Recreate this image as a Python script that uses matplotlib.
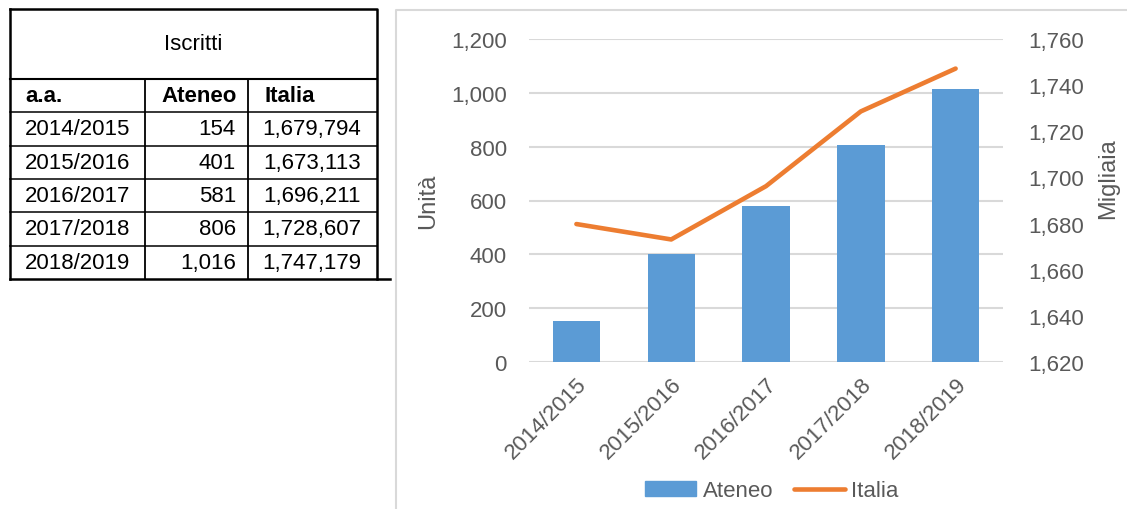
import matplotlib.pyplot as plt
from matplotlib.ticker import FuncFormatter, MultipleLocator
from matplotlib.patches import Patch
from matplotlib.lines import Line2D

anni = ["2014/2015", "2015/2016", "2016/2017", "2017/2018", "2018/2019"]
ateneo = [154, 401, 581, 806, 1016]
italia = [1679794, 1673113, 1696211, 1728607, 1747179]

plt.rcParams['font.family'] = ['Liberation Sans', 'DejaVu Sans']
grey = "#595959"
blu = "#5B9BD5"
arancio = "#ED7D31"
fs = 16

fig = plt.figure(figsize=(11.27, 5.10), dpi=100)

# overlay in pixel coords for the table and the chart frame
bg = fig.add_axes([0, 0, 1, 1])
bg.set_xlim(0, 1127)
bg.set_ylim(510, 0)
bg.axis("off")

# chart frame
bg.plot([396, 396, 1127], [510, 11, 11], color="#D9D9D9", lw=1.5)

# table
x0, x1, x2, x3 = 10, 145, 248, 377
ytop, ytit = 10, 80
rh = 33.3
nrow = len(anni) + 1
ybot = ytit + rh * nrow
bg.plot([x0, x3, x3], [ytop, ytop, ybot], color="black", lw=1.8)
bg.plot([x0, x0], [ytop, ybot], color="black", lw=1.8)
bg.plot([x0, 390], [ybot, ybot], color="black", lw=1.8)
bg.plot([x0, x3], [ytit, ytit], color="black", lw=1.5)
for xv in (x1, x2):
    bg.plot([xv, xv], [ytit, ybot], color="black", lw=1.3)
for i in range(1, nrow):
    yy = ytit + rh * i
    bg.plot([x0, x3], [yy, yy], color="black", lw=1.1)

bg.text((x0 + x3) / 2, (ytop + ytit) / 2, "Iscritti", ha="center", va="center", fontsize=fs)
yh = ytit + rh / 2
bg.text(25, yh, "a.a.", ha="left", va="center", fontsize=fs, fontweight="bold")
bg.text(161, yh, "Ateneo", ha="left", va="center", fontsize=fs, fontweight="bold")
bg.text(264, yh, "Italia", ha="left", va="center", fontsize=fs, fontweight="bold")
for i, (a, u, it) in enumerate(zip(anni, ateneo, italia)):
    yy = ytit + rh * (i + 1.5)
    bg.text(25, yy, a, ha="left", va="center", fontsize=fs)
    bg.text(236, yy, f"{u:,}", ha="right", va="center", fontsize=fs)
    bg.text(361, yy, f"{it:,}", ha="right", va="center", fontsize=fs)

# chart
ax = fig.add_axes([529 / 1127, 1 - 363 / 510, 474 / 1127, 323 / 510])
x = range(len(anni))
ax.bar(x, ateneo, width=0.5, color=blu, zorder=2)
ax.set_xlim(-0.5, len(anni) - 0.5)
ax.set_ylim(0, 1200)
ax.yaxis.set_major_locator(MultipleLocator(200))
ax.yaxis.set_major_formatter(FuncFormatter(lambda v, p: f"{v:,.0f}"))
ax.grid(axis="y", color="#D9D9D9", lw=1.5, zorder=0)
ax.set_axisbelow(True)
for s in ax.spines.values():
    s.set_visible(False)
ax.tick_params(length=0, labelsize=fs, colors=grey, pad=16)
ax.tick_params(axis="x", pad=8)
ax.set_xticks(list(x))
ax.set_xticklabels(anni, rotation=45, ha="right", va="top", rotation_mode="anchor")
ax.set_ylabel("Unità", fontsize=fs + 1, color=grey)
ax.yaxis.set_label_coords(-0.19, 0.5)

ax2 = ax.twinx()
ax2.plot(list(x), [v / 1000 for v in italia], color=arancio, lw=3.3, solid_capstyle="round", zorder=3)
ax2.set_ylim(1620, 1760)
ax2.yaxis.set_major_locator(MultipleLocator(20))
ax2.yaxis.set_major_formatter(FuncFormatter(lambda v, p: f"{v:,.0f}"))
for s in ax2.spines.values():
    s.set_visible(False)
ax2.tick_params(length=0, labelsize=fs, colors=grey, pad=18)
ax2.set_ylabel("Migliaia", fontsize=fs + 1, color=grey, rotation=90)
ax2.yaxis.set_label_coords(1.198, 0.57)

handles = [Patch(color=blu, label="Ateneo"),
           Line2D([], [], color=arancio, lw=3.3, solid_capstyle="round", label="Italia")]
fig.legend(handles=handles, loc="center", bbox_to_anchor=(772 / 1127, 1 - 492 / 510),
           ncol=2, frameon=False, fontsize=fs, handlelength=2.3, handleheight=0.65,
           handletextpad=0.3, columnspacing=0.9, labelcolor=grey)

fig.savefig("out.png", dpi=100)
